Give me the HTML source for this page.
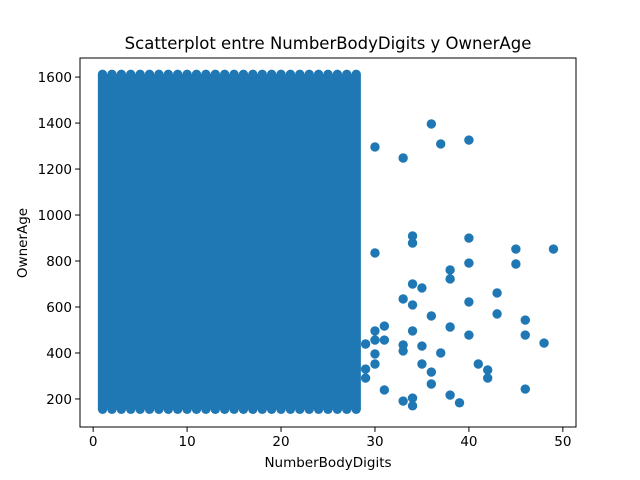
<!DOCTYPE html>
<html><head><meta charset="utf-8"><style>
body{margin:0;background:#fff}
svg{display:block;font-family:"DejaVu Sans","Liberation Sans",sans-serif}
</style></head><body>
<svg id="chart" width="640" height="480" viewBox="0 0 640 480">
<rect width="640" height="480" fill="#fff"/>
<text x="328" y="49" text-anchor="middle" font-size="16.5" fill="#000">Scatterplot entre NumberBodyDigits y OwnerAge</text>
<g id="points"></g>
<g id="axes"></g>
<text x="328" y="467" text-anchor="middle" font-size="13.5">NumberBodyDigits</text>
<text transform="translate(27,243) rotate(-90)" text-anchor="middle" font-size="13.5">OwnerAge</text>
</svg>
<script>
const denseX = [1,2,3,4,5,6,7,8,9,10,11,12,13,14,15,16,17,18,19,20,21,22,23,24,25,26,27,28];
const denseYMin = 155;
const denseYMax = 1612;
const outX = [30,33,36,37,40,30,34,34,40,49,45,40,45,38,38,34,35,43,33,34,40,36,43,31,30,30,31,34,38,40,46,46,48,29,33,33,35,30,37,30,29,29,35,41,36,42,42,36,31,46,38,34,34,33,39];
const outY = [1296,1248,1396,1309,1326,835,909,878,900,852,852,791,787,761,722,700,683,661,635,609,622,561,570,517,496,456,456,496,513,478,543,478,443,439,435,409,430,396,400,352,330,291,352,352,317,326,291,265,239,243,217,204,170,191,183];
const xTicks = [0,10,20,30,40,50];
const yTicks = [200,400,600,800,1000,1200,1400,1600];

const L=80,R=576,T=58,B=427;
const xMin=-1.4,xMax=51.4,yMin=78,yMax=1683;
const sx=v=>L+(v-xMin)/(xMax-xMin)*(R-L);
const sy=v=>B-(v-yMin)/(yMax-yMin)*(B-T);
const NS="http://www.w3.org/2000/svg";
const pg=document.getElementById('points');
const rad=4.7;
function dot(x,y,name){
  const c=document.createElementNS(NS,'circle');
  c.setAttribute('cx',sx(x));c.setAttribute('cy',sy(y));c.setAttribute('r',rad);
  c.setAttribute('fill','#1f77b4');
  
  
  pg.appendChild(c);
}
const fill=document.createElementNS(NS,'rect');
fill.setAttribute('x',sx(denseX[0])-rad);
fill.setAttribute('y',sy(denseYMax));
fill.setAttribute('width',sx(denseX[denseX.length-1])-sx(denseX[0])+2*rad);
fill.setAttribute('height',sy(denseYMin)-sy(denseYMax));
fill.setAttribute('fill','#1f77b4');


pg.appendChild(fill);
denseX.forEach(x=>{dot(x,denseYMin,'dense-point');dot(x,denseYMax,'dense-point');});
outX.forEach((x,i)=>dot(x,outY[i],'outlier-point'));
const ax=document.getElementById('axes');
let h=`<rect x="${L}" y="${T}" width="${R-L}" height="${B-T}" fill="none" stroke="#000" stroke-width="1"/>`;
xTicks.forEach(t=>{const x=sx(t);h+=`<line x1="${x}" y1="${B}" x2="${x}" y2="${B+4.9}" stroke="#000"/><text x="${x}" y="${B+19}" text-anchor="middle" font-size="13.5">${t}</text>`;});
yTicks.forEach(t=>{const y=sy(t);h+=`<line x1="${L-4.9}" y1="${y}" x2="${L}" y2="${y}" stroke="#000"/><text x="${L-8}" y="${y+5}" text-anchor="end" font-size="13.5">${t}</text>`;});
ax.innerHTML=h;
ax.querySelectorAll('line').forEach(e=>{});
ax.querySelectorAll('text').forEach(e=>{});
ax.querySelector('rect');
</script>
</body></html>
